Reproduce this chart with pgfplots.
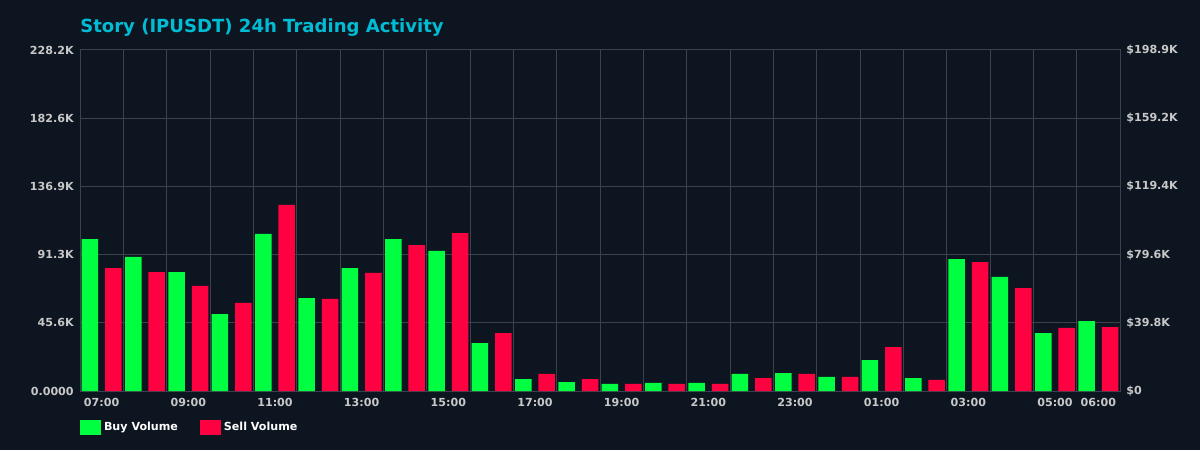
\documentclass[border=0pt]{standalone}
\usepackage{pgfplots}
\pgfplotsset{compat=1.18}
\usepackage{pgfplotstable}
\usepackage{fontspec}
\setmainfont{DejaVu Sans}
\definecolor{bg}{RGB}{13,21,32}
\definecolor{gridc}{RGB}{60,66,76}
\definecolor{buyc}{RGB}{0,255,65}
\definecolor{sellc}{RGB}{255,0,64}
\definecolor{titlec}{RGB}{0,188,212}
\definecolor{tickc}{RGB}{200,200,200}

\pgfplotstableread{
h buy sell
0 101.7 82.3
1 89.7 79.6
2 79.6 70.3
3 51.5 58.9
4 105.1 124.5
5 62.2 61.6
6 82.3 79.0
7 101.7 97.7
8 93.7 105.7
9 32.1 38.8
10 8.0 11.4
11 6.0 8.0
12 4.7 4.7
13 5.4 4.7
14 5.4 4.7
15 11.4 8.7
16 12.0 11.4
17 9.4 9.4
18 20.7 29.4
19 8.7 7.4
20 88.3 86.3
21 76.3 68.9
22 38.8 42.2
23 46.8 42.8
}\datatable

\begin{document}
\begin{tikzpicture}
\fill[bg] (0pt,0pt) rectangle (864pt,324pt);
\node[anchor=base west, text=titlec, font=\bfseries\fontsize{13}{15}\selectfont, inner sep=0pt] at (57.6pt,300.6pt) {Story (IPUSDT) 24h Trading Activity};
\begin{axis}[
  at={(57.6pt,42.48pt)}, anchor=south west, scale only axis,
  width=748.8pt, height=245.52pt,
  xmin=-0.5, xmax=23.5, ymin=0, ymax=228.2,
  axis line style={gridc, line width=0.72pt},
  major tick length=0pt, minor tick length=0pt,
  xtick={0,2,4,6,8,10,12,14,16,18,20,22,23},
  xticklabels={07:00,09:00,11:00,13:00,15:00,17:00,19:00,21:00,23:00,01:00,03:00,05:00,06:00},
  minor xtick={-0.5,0.5,...,23.5},
  xminorgrids=true, xmajorgrids=false, ymajorgrids=true,
  grid style={gridc, line width=0.72pt},
  minor grid style={gridc, line width=0.72pt},
  ytick={0,45.64,91.28,136.92,182.56,228.2},
  yticklabels={0.0000,45.6K,91.3K,136.9K,182.6K,228.2K},
  ticklabel style={text=tickc, font=\bfseries\fontsize{8}{9.6}\selectfont},
  xticklabel style={yshift=-2pt},
  yticklabel style={xshift=-1pt},
  legend style={draw=none, fill=none, text=white, font=\bfseries\fontsize{8}{9.6}\selectfont,
    at={(0,0)}, anchor=north west, yshift=-20.5pt, inner sep=0pt,
    legend columns=2,
    /tikz/every even column/.append style={column sep=14pt}},
  legend image code/.code={\fill[#1] (0pt,-5.4pt) rectangle (15.1pt,5.4pt);},
]
\addplot[ybar, bar width=0.38, bar shift=-0.27, fill=buyc, draw=none] table[x=h, y=buy] {\datatable};
\addlegendentry{Buy Volume}
\addplot[ybar, bar width=0.38, bar shift=0.27, fill=sellc, draw=none] table[x=h, y=sell] {\datatable};
\addlegendentry{Sell Volume}
\end{axis}
\begin{axis}[
  at={(57.6pt,42.48pt)}, anchor=south west, scale only axis,
  width=748.8pt, height=245.52pt,
  xmin=-0.5, xmax=23.5, ymin=0, ymax=198.9,
  hide x axis, axis y line*=right, axis line style={draw=none},
  major tick length=0pt,
  ytick={0,39.78,79.56,119.34,159.12,198.9},
  yticklabels={\$0,\$39.8K,\$79.6K,\$119.4K,\$159.2K,\$198.9K},
  yticklabel pos=right,
  ticklabel style={text=tickc, font=\bfseries\fontsize{8}{9.6}\selectfont},
  yticklabel style={xshift=1pt},
]
\addplot[draw=none] coordinates {(0,0)};
\end{axis}
\end{tikzpicture}
\end{document}
